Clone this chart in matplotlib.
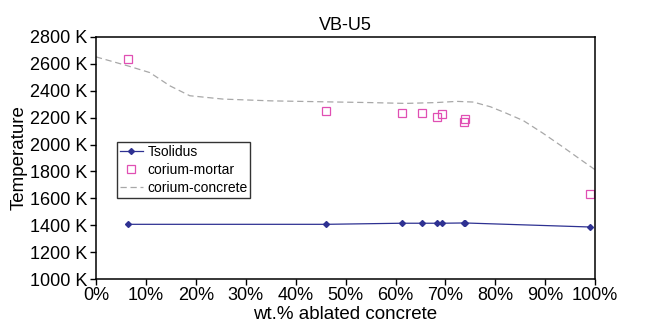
import matplotlib.pyplot as plt
from matplotlib.ticker import FuncFormatter, MultipleLocator

plt.rcParams['font.family'] = ['Liberation Sans', 'DejaVu Sans']

# wt.% ablated concrete
ts_x = [6.4, 46.1, 61.2, 65.3, 68.3, 69.3, 73.7, 73.9, 99.0]
ts_y = [1407, 1407, 1415, 1415, 1415, 1415, 1417, 1417, 1387]

mortar_x = [6.4, 46.1, 61.2, 65.3, 68.3, 69.3, 73.7, 73.9, 99.0]
mortar_y = [2637, 2247, 2235, 2235, 2205, 2227, 2168, 2187, 1630]

conc_x = [0, 6.4, 10.8, 14.8, 18.8, 25.5, 35, 45.5, 55, 62, 68, 72.3, 75.6, 79,
          82, 85.6, 89.5, 93.6, 97, 100]
conc_y = [2652, 2585, 2535, 2437, 2363, 2338, 2325, 2318, 2312, 2306, 2312, 2321,
          2316, 2281, 2236, 2178, 2085, 1980, 1890, 1812]

fig = plt.figure(figsize=(6.57, 3.33), dpi=100)
ax = fig.add_axes([0.146, 0.162, 0.76, 0.727])

ax.plot(ts_x, ts_y, color='#2e3192', lw=0.9, marker='D', ms=3, label='Tsolidus')
ax.plot(mortar_x, mortar_y, ls='none', marker='s', ms=5.5, mfc='none',
        mec='#e04fb3', mew=0.9, label='corium-mortar')
ax.plot(conc_x, conc_y, color='#a8a8a8', lw=0.9, ls=(0, (5, 3)), label='corium-concrete')

ax.set_xlim(0, 100)
ax.set_ylim(1000, 2800)
ax.xaxis.set_major_locator(MultipleLocator(10))
ax.yaxis.set_major_locator(MultipleLocator(200))
ax.xaxis.set_major_formatter(FuncFormatter(lambda v, p: f'{v:.0f}%'))
ax.yaxis.set_major_formatter(FuncFormatter(lambda v, p: f'{v:.0f} K'))
ax.tick_params(labelsize=13, length=4, width=1, pad=2)
for s in ax.spines.values():
    s.set_linewidth(1.1)

ax.set_title('VB-U5', fontsize=13, pad=5)
ax.set_xlabel('wt.% ablated concrete', fontsize=13.5, labelpad=1)
ax.set_ylabel('Temperature', fontsize=13.5, labelpad=2)

leg = ax.legend(loc='upper left', bbox_to_anchor=(0.042, 0.566), fontsize=10,
                frameon=True, fancybox=False, borderpad=0.2, labelspacing=0.3,
                handlelength=1.7, handletextpad=0.3, borderaxespad=0)
leg.get_frame().set_edgecolor('black')
leg.get_frame().set_linewidth(1.0)

fig.savefig('out.png', dpi=100)
